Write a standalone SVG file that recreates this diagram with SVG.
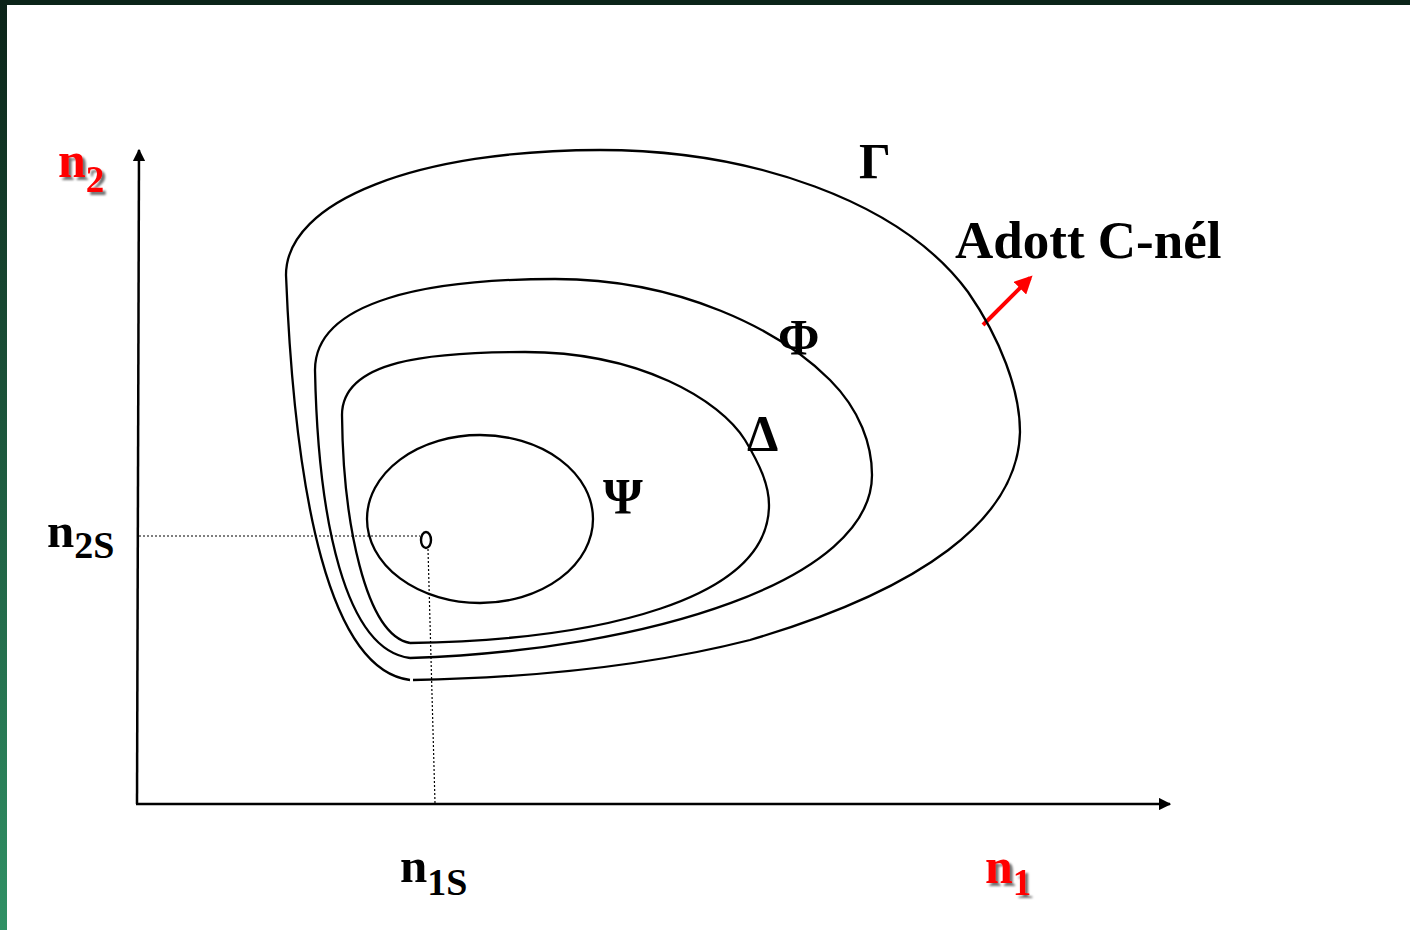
<svg xmlns="http://www.w3.org/2000/svg" width="1410" height="930" viewBox="0 0 1410 930">
<style>
.ax{stroke:#000;stroke-width:2.5;fill:none}
.cv{stroke:#000;stroke-width:2.3;fill:none}
.dot{stroke:#000;stroke-width:1.2;stroke-dasharray:2 2;fill:none}
.t{font-family:"Liberation Serif","Times New Roman",serif;font-weight:bold;fill:#000}
.r{fill:#ff0000;filter:url(#sh)}
</style>
<defs>
<linearGradient id="lg" x1="0" y1="0" x2="0" y2="1">
<stop offset="0" stop-color="#0b2318"/>
<stop offset="1" stop-color="#309165"/>
</linearGradient>
<filter id="sh" x="-20%" y="-20%" width="150%" height="150%">
<feDropShadow dx="3" dy="3" stdDeviation="1.2" flood-color="#000" flood-opacity="0.55"/>
</filter>
<marker id="ah" viewBox="0 0 10 10" refX="9" refY="5" markerWidth="5" markerHeight="5" orient="auto" markerUnits="strokeWidth">
<path d="M0,0 L10,5 L0,10 z" fill="#000"/>
</marker>
<marker id="rh" viewBox="0 0 10 10" refX="8" refY="5" markerWidth="4.5" markerHeight="4.5" orient="auto" markerUnits="strokeWidth">
<path d="M0,0 L10,5 L0,10 z" fill="#ff0000"/>
</marker>
</defs>
<rect x="0" y="0" width="1410" height="930" fill="#ffffff"/>
<rect x="0" y="0" width="1410" height="5" fill="#0b2419"/>
<rect x="0" y="0" width="7" height="930" fill="url(#lg)"/>

<g id="connectors">
<line class="ax" x1="137" y1="804" x2="139" y2="150" marker-end="url(#ah)"/>
<line class="ax" x1="136" y1="804" x2="1170" y2="804" marker-end="url(#ah)"/>
<line class="dot" x1="139" y1="536" x2="420" y2="536"/>
<line class="dot" x1="428" y1="549" x2="435" y2="803"/>
<line x1="983" y1="325" x2="1030" y2="278" stroke="#ff0000" stroke-width="4" marker-end="url(#rh)"/>
</g>

<g id="gamma">
<path class="cv" d="M410,680 C330,670 295,500 286,275 C286,200 420,150 600,150 C750,150 900,200 968,292 C1000,338 1020,390 1020,432"/>
<path class="cv" d="M1020,432 C1018,520 920,590 750,640 C640,668 520,678 413,680"/>
<text class="t" x="859" y="178" font-size="50">Γ</text>
</g>
<g id="phi">
<path class="cv" d="M410,658 C345,650 318,520 315,370 C315,300 430,279 555,279 C680,279 780,330 830,380 C860,410 872,445 872,475 C872,580 650,650 410,658"/>
<text class="t" x="778" y="354" font-size="50">Φ</text>
</g>
<g id="delta">
<path class="cv" d="M410,643 C365,635 343,520 342,415 C342,360 430,352 525,352 C640,352 720,400 745,440 C760,465 769,485 769,505 C769,600 600,640 410,643"/>
<text class="t" x="747" y="450" font-size="50">Δ</text>
</g>
<g id="psi">
<ellipse class="cv" cx="480" cy="519" rx="113" ry="84"/>
<text class="t" x="603" y="513" font-size="51">Ψ</text>
</g>
<g id="point">
<ellipse cx="426" cy="540" rx="5" ry="8" fill="none" stroke="#000" stroke-width="2.4"/>
</g>

<g id="labels">
<text class="t r" x="58" y="177" font-size="50">n<tspan font-size="37" dy="15">2</tspan></text>
<text class="t" x="47" y="547" font-size="49">n<tspan font-size="38" dy="11">2S</tspan></text>
<text class="t" x="400" y="882" font-size="49">n<tspan font-size="38" dy="13">1S</tspan></text>
<text class="t r" x="985" y="883" font-size="50">n<tspan font-size="37" dy="12">1</tspan></text>
<text class="t" x="955" y="258" font-size="53">Adott C-nél</text>
</g>
</svg>
